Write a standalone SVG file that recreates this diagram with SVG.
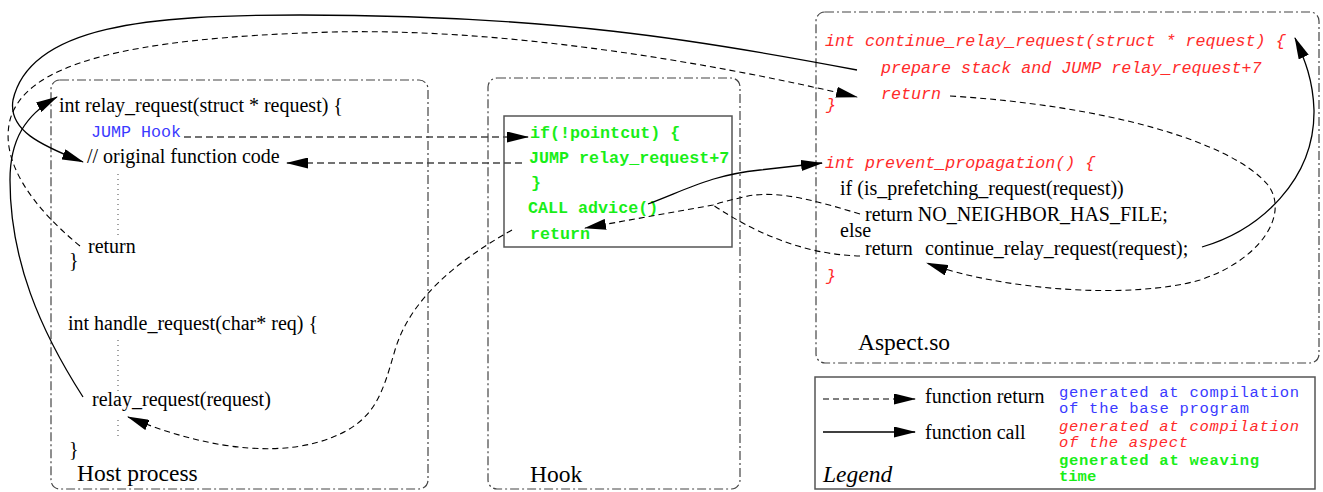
<svg xmlns="http://www.w3.org/2000/svg" width="1323" height="492" viewBox="0 0 1323 492">
  <defs>
    <marker id="arrow" markerUnits="userSpaceOnUse" markerWidth="22" markerHeight="11" refX="21" refY="5.5" orient="auto">
      <path d="M0,0 L22,5.5 L0,11 z" fill="#000"/>
    </marker>
    <style>
      .frame { fill: none; stroke: #444; stroke-width: 1.2; stroke-dasharray: 9 3 2 3; }
      .box { fill: none; stroke: #555; stroke-width: 1.5; }
      .dots { stroke: #666; stroke-width: 1.2; stroke-dasharray: 1 4; }
      .call { fill: none; stroke: #000; stroke-width: 1.3; }
      .ret { fill: none; stroke: #000; stroke-width: 1.1; stroke-dasharray: 6 4; }
      .retg { fill: none; stroke: #444; stroke-width: 1.6; stroke-dasharray: 7 4; }
      .src { font-family: "Liberation Serif", "Times New Roman", serif; font-size: 20px; fill: #000; }
      .title { font-family: "Liberation Serif", "Times New Roman", serif; font-size: 23.5px; fill: #000; }
      .base { font-family: "Liberation Mono", "Courier New", monospace; font-size: 16.7px; fill: #3a3aff; }
      .aspect { font-family: "Liberation Mono", "Courier New", monospace; font-size: 16.7px; font-style: italic; fill: #ff2a2a; }
      .weave { font-family: "Liberation Mono", "Courier New", monospace; font-size: 16.7px; font-weight: bold; fill: #18ee18; }
      .key { font-size: 15.5px; }
    </style>
  </defs>

  <!-- Host process -->
  <g id="host">
    <rect class="frame" x="51" y="80" width="377" height="409" rx="9"/>
    <text class="src" x="59" y="112">int relay_request(struct * request) {</text>
    <text class="base" x="91" y="137">JUMP Hook</text>
    <text class="src" x="87" y="163">// original function code</text>
    <line class="dots" x1="118" y1="174" x2="118" y2="236"/>
    <text class="src" x="88" y="253">return</text>
    <text class="src" x="69" y="267">}</text>
    <text class="src" x="68" y="330">int handle_request(char* req) {</text>
    <line class="dots" x1="118" y1="340" x2="118" y2="392"/>
    <text class="src" x="92" y="406">relay_request(request)</text>
    <line class="dots" x1="118" y1="420" x2="118" y2="440"/>
    <text class="src" x="69" y="456">}</text>
    <text class="title" x="77" y="481">Host process</text>
  </g>

  <!-- Hook -->
  <g id="hook">
    <rect class="frame" x="488" y="78" width="252" height="411" rx="9"/>
    <rect class="box" x="504" y="116" width="228" height="131"/>
    <text class="weave" x="530" y="138">if(!pointcut) {</text>
    <text class="weave" x="529" y="163">JUMP relay_request+7</text>
    <text class="weave" x="531" y="188">}</text>
    <text class="weave" x="528" y="213">CALL advice()</text>
    <text class="weave" x="530" y="239">return</text>
    <text class="title" x="530" y="482">Hook</text>
  </g>

  <!-- Aspect.so -->
  <g id="aspect">
    <rect class="frame" x="816" y="12" width="503" height="351" rx="9"/>
    <text class="aspect" x="825" y="46">int continue_relay_request(struct * request) {</text>
    <text class="aspect" x="881" y="73">prepare stack and JUMP relay_request+7</text>
    <text class="aspect" x="881" y="99">return</text>
    <text class="aspect" x="826" y="110">}</text>
    <text class="aspect" x="825" y="168">int prevent_propagation() {</text>
    <text class="src" x="840" y="195">if (is_prefetching_request(request))</text>
    <text class="src" x="865" y="221">return NO_NEIGHBOR_HAS_FILE;</text>
    <text class="src" x="840" y="237">else</text>
    <text class="src" y="255"><tspan x="865">return</tspan><tspan x="925">continue_relay_request(request);</tspan></text>
    <text class="aspect" x="826" y="281">}</text>
    <text class="title" x="858" y="350">Aspect.so</text>
  </g>

  <!-- Legend -->
  <g id="legend">
    <rect class="box" x="815" y="377" width="500" height="112"/>
    <line class="ret" x1="823" y1="399" x2="915" y2="399" marker-end="url(#arrow)"/>
    <text class="src" x="925" y="403">function return</text>
    <line class="call" x1="823" y1="432" x2="915" y2="432" marker-end="url(#arrow)"/>
    <text class="src" x="925" y="439">function call</text>
    <text class="title" x="823" y="482" font-style="italic">Legend</text>
    <text class="base key" x="1059" y="397" textLength="240">generated at compilation</text>
    <text class="base key" x="1059" y="413" textLength="190">of the base program</text>
    <text class="aspect key" x="1059" y="431" textLength="240">generated at compilation</text>
    <text class="aspect key" x="1059" y="447" textLength="129">of the aspect</text>
    <text class="weave key" x="1059" y="465" textLength="200">generated at weaving</text>
    <text class="weave key" x="1059" y="481">time</text>
  </g>

  <!-- Connectors -->
  <g id="connectors">
    <!-- JUMP Hook -> hook entry -->
    <line class="retg" x1="184" y1="137" x2="528" y2="137" marker-end="url(#arrow)"/>
    <!-- hook jumps back into original code -->
    <line class="retg" x1="522" y1="163" x2="287" y2="163" marker-end="url(#arrow)"/>
    <!-- CALL advice() -> prevent_propagation -->
    <path class="call" d="M648,204 C690,188 712,175 760,170 C785,167 805,165 822,163" marker-end="url(#arrow)"/>
    <!-- returns from prevent_propagation back to hook -->
    <path class="ret" d="M860,214 C820,202 780,190 748,196 C735,199 722,202 713,205 L585,228" marker-end="url(#arrow)"/>
    <path class="ret" d="M860,256 C815,255 765,240 713,205"/>
    <!-- hook return -> caller in handle_request -->
    <path class="ret" d="M512,230 C455,262 410,300 395,350 C382,395 375,420 333,437 C290,455 220,455 128,417" marker-end="url(#arrow)"/>
    <!-- relay_request returns into continue_relay_request -->
    <path class="ret" d="M80,246 C30,205 0,160 10,120 C25,65 120,38 333,32 C500,28 700,60 857,97" marker-end="url(#arrow)"/>
    <!-- handle_request calls relay_request -->
    <path class="call" d="M83,397 C40,330 10,260 10,180 C10,140 25,115 57,97" marker-end="url(#arrow)"/>
    <!-- continue_relay_request jumps to relay_request+7 -->
    <path class="call" d="M857,70 C700,40 550,15 300,15 C150,15 30,25 13,100 C8,130 40,145 83,162" marker-end="url(#arrow)"/>
    <!-- prevent_propagation calls continue_relay_request -->
    <path class="call" d="M1202,247 C1260,230 1315,180 1314,110 C1313,80 1305,60 1295,38" marker-end="url(#arrow)"/>
    <!-- continue_relay_request returns to prevent_propagation -->
    <path class="ret" d="M950,96 C1100,105 1230,140 1268,185 C1290,215 1260,260 1200,280 C1130,300 1000,290 927,263" marker-end="url(#arrow)"/>
  </g>
</svg>
